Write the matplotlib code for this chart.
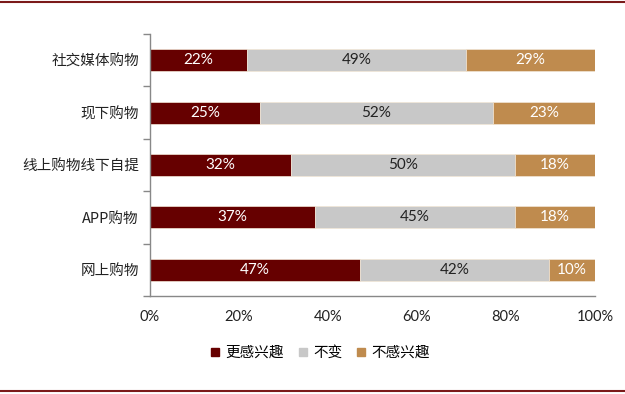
import matplotlib
matplotlib.use("Agg")
import matplotlib.pyplot as plt
from matplotlib.lines import Line2D
import numpy as np

categories = ["社交媒体购物", "现下购物", "线上购物线下自提", "APP购物", "网上购物"]
series_names = ["更感兴趣", "不变", "不感兴趣"]
more_interested = [21.8, 24.7, 31.7, 37.1, 47.2]
unchanged = [49.2, 52.4, 50.3, 44.9, 42.4]
less_interested = [29.0, 22.9, 18.0, 18.0, 10.4]
colors = ["#660000", "#C8C8C8", "#BF8B4E"]
label_colors = ["white", "#222222", "white"]
xticks = [0, 20, 40, 60, 80, 100]

plt.rcParams['font.family'] = ['Noto Sans CJK SC', 'DejaVu Sans']

fig = plt.figure(figsize=(6.25, 3.94), dpi=100)
ax = fig.add_axes([0.24, 0.2487, 0.712, 0.665])

y = np.arange(len(categories))
left = np.zeros(len(categories))
for vals, col, lc in zip([more_interested, unchanged, less_interested], colors, label_colors):
    vals = np.array(vals)
    ax.barh(y, vals, left=left, height=0.42, color=col, edgecolor="#F2E6D6", linewidth=0.5)
    for yi, l, v in zip(y, left, vals):
        ax.text(l + v / 2, yi, f"{v:.0f}%", ha="center", va="center", color=lc,
                fontsize=11, family=['Lato', 'DejaVu Sans'])
    left = left + vals

ax.set_ylim(len(categories) - 0.5, -0.5)
ax.set_xlim(0, 100)
ax.set_yticks(y)
ax.set_yticklabels(categories, fontsize=10.5, color="#222222")
ax.tick_params(axis='y', length=0, pad=8)
ax.set_yticks(np.arange(-0.5, len(categories), 1.0), minor=True)
ax.tick_params(axis='y', which='minor', length=5, color="#888888", width=1)
ax.set_xticks(xticks)
ax.set_xticklabels([f"{t}%" for t in xticks], fontsize=10.5, family=['Lato', 'DejaVu Sans'], color="#222222")
ax.tick_params(axis='x', length=0, pad=10)
for s in ["top", "right"]:
    ax.spines[s].set_visible(False)
for s in ["left", "bottom"]:
    ax.spines[s].set_color("#888888")
    ax.spines[s].set_linewidth(1)

handles = [Line2D([0], [0], marker='s', linestyle='None', markersize=6,
                  markerfacecolor=c, markeredgecolor=c) for c in colors]
fig.legend(handles, series_names, loc="center", bbox_to_anchor=(0.51, 0.104), ncol=3,
           frameon=False, fontsize=10.5, handletextpad=0.2, columnspacing=0.8, handlelength=1.0)

fig.add_artist(Line2D([0, 1], [1 - 2 / 394, 1 - 2 / 394], color="#7B1A1A", linewidth=1.5, transform=fig.transFigure))
fig.add_artist(Line2D([0, 1], [1 - 391 / 394, 1 - 391 / 394], color="#7B1A1A", linewidth=1.5, transform=fig.transFigure))

fig.savefig("out.png", dpi=100)
